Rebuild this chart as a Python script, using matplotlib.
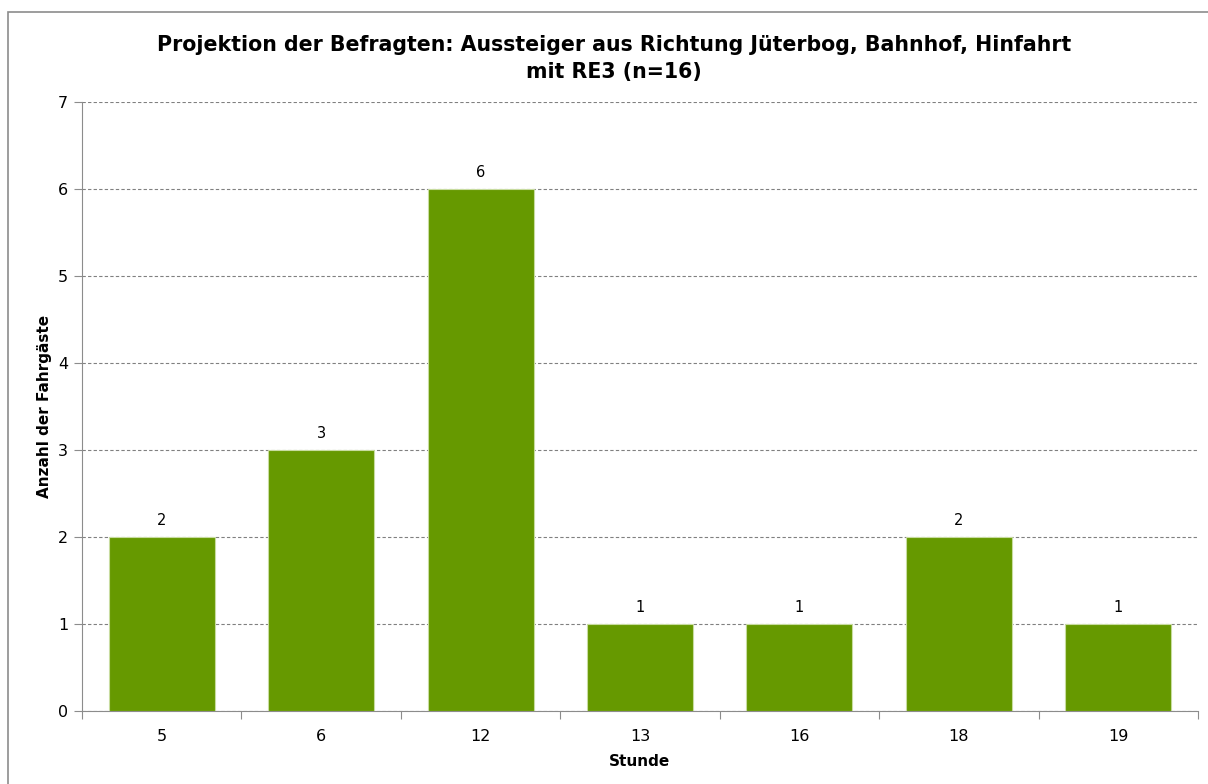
import matplotlib.pyplot as plt
from matplotlib.patches import Rectangle
import numpy as np

# Data
hours = ['5', '6', '12', '13', '16', '18', '19']
counts = [2, 3, 6, 1, 1, 2, 1]

title = ('Projektion der Befragten: Aussteiger aus Richtung Jüterbog, Bahnhof, Hinfahrt\n'
         'mit RE3 (n=16)')

plt.rcParams['font.family'] = ['DejaVu Sans']

fig = plt.figure(figsize=(12.08, 7.84), dpi=100)
ax = fig.add_axes([82/1208, 1 - 711/784, (1198 - 82)/1208, (711 - 102)/784])

# chart border (bottom and right fall outside the image)
fig.patches.append(Rectangle((8/1208, -0.2), 1.2, 1.2 - 12/784, transform=fig.transFigure,
                             fill=False, edgecolor='#8c8c8c', linewidth=1.2))

x = np.arange(len(hours))
bars = ax.bar(x, counts, width=0.665, color='#669900', edgecolor='#c8dca0',
              linewidth=0.8, zorder=3)
for xi, c in zip(x, counts):
    ax.text(xi, c + 0.1, str(c), ha='center', va='bottom', fontsize=10.5)

ax.set_xlim(-0.5, len(hours) - 0.5)
ax.set_ylim(0, 7)
ax.set_yticks(range(0, 8))
ax.set_xticks(np.arange(-0.5, len(hours), 1), minor=False)
ax.set_xticklabels([])
ax.set_xticks(x, minor=True)
ax.set_xticklabels(hours, minor=True)
ax.tick_params(axis='x', which='minor', length=0, pad=13, labelsize=11.5)
ax.tick_params(axis='x', which='major', length=6, color='#8c8c8c', direction='out')
ax.tick_params(axis='y', length=6, color='#8c8c8c', labelsize=11.5, pad=4)

ax.grid(axis='y', linestyle=(0, (3, 2)), color='#808080', linewidth=0.8, zorder=0)
for s in ['top', 'right']:
    ax.spines[s].set_visible(False)
for s in ['left', 'bottom']:
    ax.spines[s].set_color('#8c8c8c')

ax.set_xlabel('Stunde', fontsize=11, fontweight='bold', labelpad=7)
ax.set_ylabel('Anzahl der Fahrgäste', fontsize=11, fontweight='bold', labelpad=4)

fig.text(614/1208, 1 - 58.5/784, title, ha='center', va='center', fontsize=14.8,
         fontweight='bold', linespacing=1.45)

fig.savefig('out.png', dpi=100)
